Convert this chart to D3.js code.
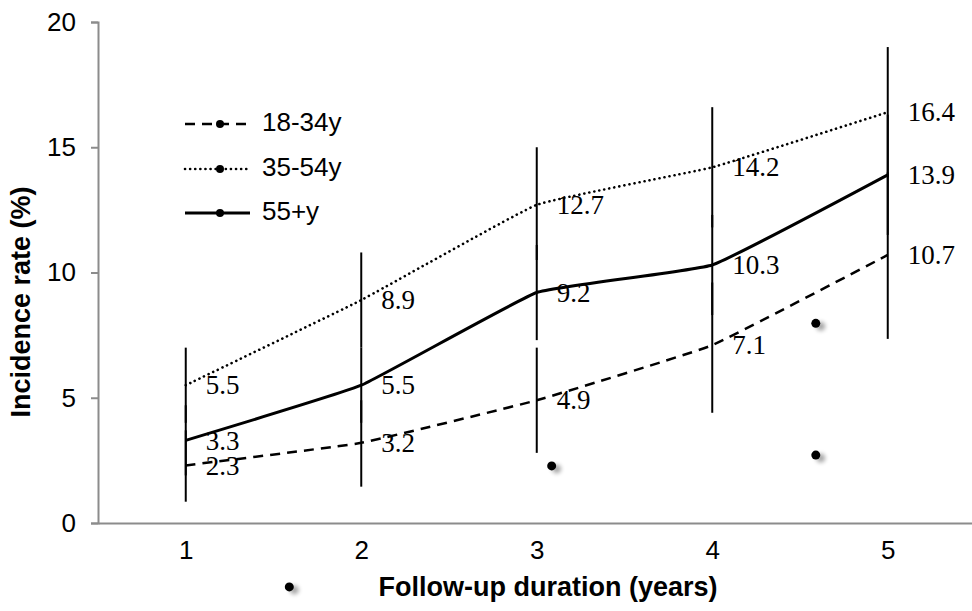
<!DOCTYPE html>
<html><head><meta charset="utf-8">
<script src="https://cdn.jsdelivr.net/npm/d3@7"></script>
<style>body{margin:0;background:#fff}</style>
</head><body>
<svg id="c" width="972" height="611"></svg>
<script>
const years = [1, 2, 3, 4, 5];
const yTicks = [0, 5, 10, 15, 20];
const seriesNames = ["18-34y", "35-54y", "55+y"];
const rate1834 = [2.3, 3.2, 4.9, 7.1, 10.7];
const rate3554 = [5.5, 8.9, 12.7, 14.2, 16.4];
const rate55 = [3.3, 5.5, 9.2, 10.3, 13.9];
const low1834 = [0.85, 1.45, 2.8, 4.4, 7.35];
const high1834 = [3.7, 4.9, 7.0, 9.6, 14.0];
const low3554 = [4.0, 7.0, 10.5, 11.8, 13.8];
const high3554 = [7.0, 10.8, 15.0, 16.6, 19.0];
const low55 = [1.9, 4.0, 7.3, 8.3, 11.5];
const high55 = [4.7, 7.0, 11.1, 12.3, 16.3];
const strayX = [3.085, 4.59, 4.59, 1.59];
const strayY = [2.28, 7.97, 2.71, -2.55];

const svg = d3.select("#c");
const x = d3.scaleLinear().domain([0.5, 5.5]).range([98, 975.5]);
const y = d3.scaleLinear().domain([0, 20]).range([523, 22]);

const defs = svg.append("defs");
const f = defs.append("filter").attr("id","sh").attr("x","-100%").attr("y","-100%").attr("width","300%").attr("height","300%");
f.append("feGaussianBlur").attr("in","SourceAlpha").attr("stdDeviation",2.2).attr("result","b");
f.append("feOffset").attr("in","b").attr("dx",5).attr("dy",3).attr("result","o");
f.append("feComponentTransfer").attr("in","o").attr("result","o2").append("feFuncA").attr("type","linear").attr("slope",0.35);
const m = f.append("feMerge"); m.append("feMergeNode").attr("in","o2"); m.append("feMergeNode").attr("in","SourceGraphic");

const sans = "Liberation Sans, Arial, sans-serif";

// axes
const yAxis = svg.append("g").attr("transform", `translate(${x(0.5)},0)`)
  .call(d3.axisLeft(y).tickValues(yTicks).tickSize(7).tickPadding(15).tickFormat(d3.format("d")));
yAxis.select(".domain").attr("stroke", "#8c8c8c").attr("stroke-width", 2);
yAxis.selectAll(".tick line").attr("stroke", "#8c8c8c").attr("stroke-width", 2);
yAxis.selectAll(".tick text").attr("font-family", sans).attr("font-size", 26).attr("fill", "#000");

const xAxis = svg.append("g").attr("transform", `translate(0,${y(0)})`)
  .call(d3.axisBottom(x).tickValues(years).tickSize(0).tickPadding(18).tickFormat(d3.format("d")));
xAxis.select(".domain").attr("stroke", "#8c8c8c").attr("stroke-width", 2);
xAxis.selectAll(".tick text").attr("font-family", sans).attr("font-size", 26).attr("fill", "#000");

// titles
svg.append("text").attr("x", 548).attr("y", 596).attr("text-anchor", "middle")
  .attr("font-family", sans).attr("font-weight", "bold").attr("font-size", 27)
  .text("Follow-up duration (years)");
svg.append("text").attr("transform", "translate(30,302) rotate(-90)").attr("text-anchor", "middle")
  .attr("font-family", sans).attr("font-weight", "bold").attr("font-size", 27)
  .text("Incidence rate (%)");

const series = [
  {name: seriesNames[0], v: rate1834, lo: low1834, hi: high1834, dash: "10,7", w: 2.5, cap: "butt"},
  {name: seriesNames[1], v: rate3554, lo: low3554, hi: high3554, dash: "0.1,5", w: 2.6, cap: "round"},
  {name: seriesNames[2], v: rate55, lo: low55, hi: high55, dash: null, w: 3, cap: "butt"}
];

// error bars
series.forEach(s => {
  svg.append("g").selectAll("line").data(years).join("line")
    .attr("x1", d => x(d)).attr("x2", d => x(d))
    .attr("y1", (d, i) => y(s.lo[i])).attr("y2", (d, i) => y(s.hi[i]))
    .attr("stroke", "#000").attr("stroke-width", 2);
});

// lines
const line = d3.line().x((d, i) => x(years[i])).y(d => y(d)).curve(d3.curveCardinal.tension(0.7));
series.forEach(s => {
  svg.append("path").datum(s.v).attr("d", line).attr("fill", "none").attr("stroke", "#000")
    .attr("stroke-width", s.w).attr("stroke-dasharray", s.dash).attr("stroke-linecap", s.cap);
});

// data labels
series.forEach(s => {
  svg.append("g").selectAll("text").data(s.v).join("text")
    .attr("x", (d, i) => x(years[i]) + 20).attr("y", d => y(d) + 3)
    .attr("dominant-baseline", "middle")
    .attr("font-family", "Liberation Serif, Times New Roman, serif").attr("font-size", 27).attr("fill", "#000")
    .text(d => d.toFixed(1));
});

// legend
const lg = svg.append("g");
const legY = [124, 169, 213];
series.forEach((s, i) => {
  lg.append("line").attr("x1", 185).attr("x2", 250).attr("y1", legY[i]).attr("y2", legY[i])
    .attr("stroke", "#000").attr("stroke-width", s.w).attr("stroke-dasharray", s.dash).attr("stroke-linecap", s.cap);
  lg.append("circle").attr("cx", 220).attr("cy", legY[i]).attr("r", 4).attr("fill", "#000");
  lg.append("text").attr("x", 262).attr("y", legY[i]).attr("dominant-baseline", "middle")
    .attr("font-family", sans).attr("font-size", 26).text(s.name);
});

// stray markers
svg.append("g").selectAll("circle").data(strayX).join("circle")
  .attr("cx", d => x(d)).attr("cy", (d, i) => y(strayY[i])).attr("r", 4.5).attr("fill", "#000").attr("filter", "url(#sh)");
</script>
</body></html>
